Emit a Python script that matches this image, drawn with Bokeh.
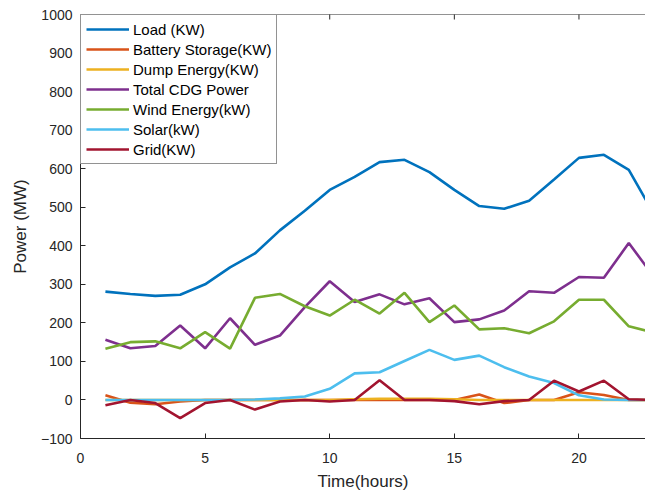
from math import pi
from bokeh.plotting import figure
from bokeh.models import Legend, LegendItem, Range1d, FixedTicker, Span
from bokeh.embed import file_html
from bokeh.resources import INLINE

hours = list(range(1, 24))
load = [281, 275, 270, 273, 300, 344, 380, 440, 491, 545, 579, 617, 623, 591, 545,
        503, 496, 517, 572, 628, 636, 597, 483]
battery = [12, -7, -11, -4, 0, 0, 0, 0, 0, 0, 0, 0, 0, 0, 0,
           14, -8, 0, 0, 20, 13, 0, 0]
dump = [0, 0, 0, 0, 0, 0, 0, 0, 0, 0, 2, 3, 3, 3, 2,
        0, 0, 0, 0, 0, 0, 0, 0]
total_cdg = [156, 134, 140, 193, 134, 212, 143, 167, 241, 308, 254, 274, 248, 264, 202,
             209, 232, 282, 278, 319, 317, 407, 320]
wind = [133, 150, 152, 134, 176, 133, 265, 275, 243, 219, 260, 224, 278, 202, 245,
        183, 186, 173, 204, 260, 260, 191, 175]
solar = [0, 0, 0, 0, 0, 0, 1, 4, 9, 29, 69, 72, 101, 130, 104,
         115, 85, 61, 44, 12, 1, 0, 0]
grid = [-14, 0, -8, -47, -8, 0, -25, -4, 0, -4, 0, 51, 0, 0, -3,
        -11, -3, 0, 50, 22, 50, 2, 0]

series = [
    ("Load (KW)", load, "#0072BD"),
    ("Battery Storage(KW)", battery, "#D95319"),
    ("Dump Energy(KW)", dump, "#EDB120"),
    ("Total CDG Power", total_cdg, "#7E2F8E"),
    ("Wind Energy(kW)", wind, "#77AC30"),
    ("Solar(kW)", solar, "#4DBEEE"),
    ("Grid(KW)", grid, "#A2142F"),
]

x_ticks = [0, 5, 10, 15, 20]
y_ticks = list(range(-100, 1001, 100))
Y_MIN, Y_MAX = -100, 1000

FONT = "Liberation Sans"
AX = "#262626"

p = figure(width=645, height=495, output_backend="svg", toolbar_location=None,
           x_range=Range1d(0, 22.67), y_range=Range1d(Y_MIN, Y_MAX),
           min_border_left=80, min_border_right=0, min_border_top=14, min_border_bottom=57)
p.outline_line_color = None
p.xgrid.visible = False
p.ygrid.visible = False
p.background_fill_color = "white"

items = []
for name, vals, col in series:
    r = p.line(hours, vals, line_color=col, line_width=2.6)
    items.append(LegendItem(label=name, renderers=[r]))

for ax in (p.xaxis[0], p.yaxis[0]):
    ax.axis_line_color = AX
    ax.major_tick_line_color = AX
    ax.major_tick_in = 5
    ax.major_tick_out = 0
    ax.minor_tick_line_color = None
    ax.major_label_text_font = FONT
    ax.major_label_text_font_size = "14px"
    ax.major_label_text_color = AX
    ax.axis_label_text_font = FONT
    ax.axis_label_text_font_size = "17px"
    ax.axis_label_text_font_style = "normal"
    ax.axis_label_text_color = AX

p.xaxis[0].ticker = FixedTicker(ticks=x_ticks)
p.yaxis[0].ticker = FixedTicker(ticks=y_ticks)
p.xaxis[0].axis_label = "Time(hours)"
p.yaxis[0].axis_label = "Power (MW)"
p.xaxis[0].major_label_standoff = 14
p.xaxis[0].axis_label_standoff = 6
p.yaxis[0].major_label_standoff = 8
p.yaxis[0].axis_label_standoff = 8

# top box edge with inward ticks (MATLAB box on)
p.add_layout(Span(location=Y_MAX, dimension="width", line_color=AX, line_width=1))
p.scatter(x_ticks, [Y_MAX] * len(x_ticks), marker="dash", angle=pi / 2, size=10,
          line_color=AX, line_width=1)

legend = Legend(items=items, location="top_left", margin=0, padding=5,
                spacing=2, glyph_height=18, label_height=18, glyph_width=43,
                label_standoff=4, label_text_font=FONT, label_text_font_size="15px",
                label_text_color="black", border_line_color="#262626",
                border_line_width=1, background_fill_color="white",
                background_fill_alpha=1.0)
p.add_layout(legend, "center")

open("out.html", "w").write(file_html(p, INLINE))
